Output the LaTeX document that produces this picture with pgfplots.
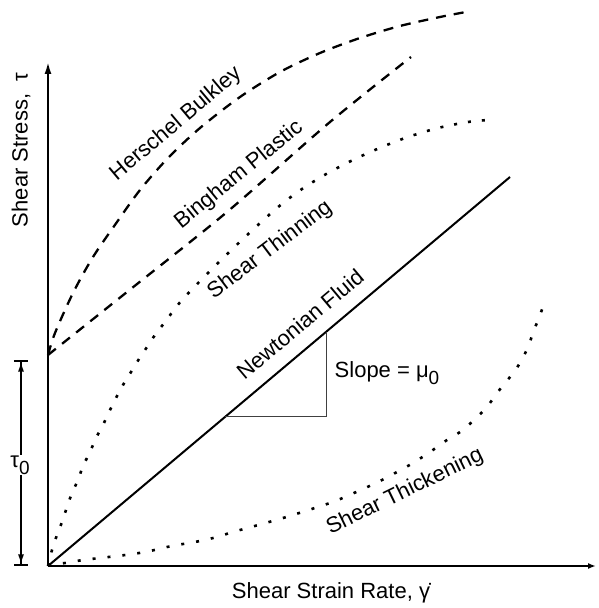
\documentclass[border=0pt]{standalone}
\usepackage{fontspec}
\setmainfont{Liberation Sans}
\usepackage{pgfplots}
\pgfplotsset{compat=1.18}
\usetikzlibrary{arrows.meta}
\newcommand\lbl{\fontsize{22}{26}\selectfont}
\newcommand\subz{\raisebox{-0.32em}{\fontsize{19}{19}\selectfont 0}}
\begin{document}
\begin{tikzpicture}
\begin{axis}[
  width=548pt, height=504pt, scale only axis,
  xmin=0, xmax=548, ymin=0, ymax=504,
  axis lines=left,
  x axis line style={line width=2pt, -{Latex[length=8pt,width=6pt]}},
  y axis line style={line width=2pt, -{Latex[length=12pt,width=7pt]}},
  xtick=\empty, ytick=\empty,
  clip=false,
]
% Newtonian
\addplot[black, line width=2pt] coordinates {(0,0) (462,389)};
% Herschel Bulkley
\addplot[black, line width=2.3pt, dash pattern=on 10pt off 8pt, smooth, tension=0.5] coordinates {
(0,211) (7,233) (25,273) (45,309) (69,344) (92,376) (120,408) (152,438) (192,469) (232,494) (272,513) (312,528) (352,540) (392,549) (418,554)};
% Bingham
\addplot[black, line width=2.3pt, dash pattern=on 10pt off 8pt, smooth] coordinates {
(0,211) (79,274) (179,354) (282,444) (363,509)};
% Shear thinning
\addplot[black, line width=2.6pt, dash pattern=on 3pt off 11pt, smooth, tension=0.5] coordinates {
(0,0) (4,16) (9,31) (14,44) (19,59) (24,73) (30,86) (35,100) (42,114) (48,128) (55,141) (61,154) (68,168) (75,181) (83,194) (91,207) (99,219) (107,231) (117,244) (134,266) (165,298) (197,329) (229,358) (254,377) (280,393) (307,407) (334,419) (360,429) (390,438) (420,444) (440,446)};
% Shear thickening
\addplot[black, line width=2.6pt, dash pattern=on 3pt off 12pt, smooth, tension=0.5] coordinates {
(0,1) (17,3) (35,6) (52,8) (69,10) (85,12) (102,15) (119,19) (135,22) (152,25) (169,29) (185,34) (235,48) (282,63) (299,70) (315,77) (332,85) (349,94) (365,103) (382,114) (399,126) (415,136) (429,149) (439,159) (449,173) (462,189) (472,203) (480,219) (485,233) (490,246) (495,259)};
% slope triangle
\draw[black!75, line width=1pt] (axis cs:177,149) -- (axis cs:278,149) -- (axis cs:278,234);
% tau0 arrow
\draw[black, line width=1.6pt, {Bar[width=14pt]Latex[length=10pt,width=6pt]}-{Latex[length=10pt,width=6pt]Bar[width=14pt]}] (axis cs:-27,206) -- (axis cs:-27,0);
\node[fill=white, inner sep=1pt, font=\lbl] at (axis cs:-28,101) {τ\subz};
% labels
\node[rotate=90, font=\lbl] at (axis cs:-27,416) {Shear Stress,\ \ τ};
\node[font=\lbl] at (axis cs:283,-27) {Shear Strain Rate,\ γ̇};
\node[font=\lbl] at (axis cs:339,193) {Slope = μ\subz};
\node[rotate=40, font=\lbl] at (axis cs:128,442) {Herschel Bulkley};
\node[rotate=39, font=\lbl] at (axis cs:191,391) {Bingham Plastic};
\node[rotate=37, font=\lbl] at (axis cs:222,316) {Shear Thinning};
\node[rotate=40, font=\lbl] at (axis cs:252,242) {Newtonian Fluid};
\node[rotate=26, font=\lbl] at (axis cs:357,74) {Shear Thickening};
\end{axis}
\pgfresetboundingbox
\path (-48pt,-42pt) rectangle (550pt,566pt);
\end{tikzpicture}
\end{document}
